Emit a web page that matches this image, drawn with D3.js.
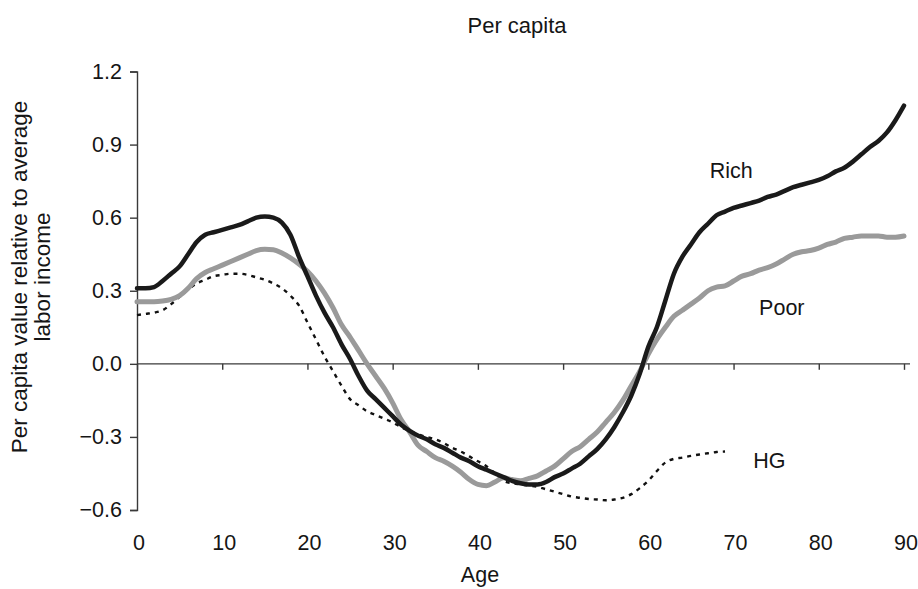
<!DOCTYPE html>
<html>
<head>
<meta charset="utf-8">
<script src="https://cdn.jsdelivr.net/npm/d3@7"></script>
<style>
  html, body { margin: 0; padding: 0; background: #fff; }
  svg text { font-family: "Liberation Sans", Arial, Helvetica, sans-serif; fill: #151515; }
</style>
</head>
<body>
<svg id="chart" width="918" height="589"></svg>
<script>
// Per capita values relative to average labor income, by age
const richAges = d3.range(0, 91);
const richValues = [
  0.31, 0.31, 0.315, 0.34, 0.37, 0.40, 0.45, 0.50, 0.53, 0.54,
  0.55, 0.56, 0.57, 0.585, 0.60, 0.605, 0.60, 0.58, 0.53, 0.44,
  0.36, 0.28, 0.21, 0.15, 0.08, 0.02, -0.05, -0.11, -0.145, -0.18,
  -0.215, -0.25, -0.275, -0.295, -0.31, -0.33, -0.345, -0.365, -0.385, -0.40,
  -0.42, -0.435, -0.45, -0.465, -0.48, -0.49, -0.495, -0.495, -0.485, -0.465,
  -0.45, -0.43, -0.41, -0.38, -0.35, -0.31, -0.26, -0.20, -0.13, -0.04,
  0.07, 0.15, 0.26, 0.37, 0.44, 0.49, 0.54, 0.575, 0.61, 0.625,
  0.64, 0.65, 0.66, 0.67, 0.685, 0.695, 0.71, 0.725, 0.735, 0.745,
  0.755, 0.77, 0.79, 0.805, 0.83, 0.86, 0.89, 0.915, 0.95, 1.0,
  1.06
];

const poorAges = d3.range(0, 91);
const poorValues = [
  0.255, 0.255, 0.255, 0.258, 0.265, 0.28, 0.31, 0.35, 0.375, 0.39,
  0.405, 0.42, 0.435, 0.45, 0.465, 0.47, 0.468, 0.455, 0.435, 0.41,
  0.38, 0.34, 0.29, 0.23, 0.16, 0.11, 0.055, 0.0, -0.05, -0.10,
  -0.16, -0.23, -0.28, -0.335, -0.36, -0.385, -0.40, -0.42, -0.445, -0.475,
  -0.495, -0.50, -0.485, -0.468, -0.475, -0.48, -0.47, -0.46, -0.44, -0.42,
  -0.39, -0.36, -0.34, -0.31, -0.28, -0.24, -0.20, -0.15, -0.09, -0.03,
  0.04, 0.10, 0.15, 0.195, 0.22, 0.245, 0.27, 0.30, 0.315, 0.32,
  0.34, 0.36, 0.37, 0.385, 0.395, 0.41, 0.43, 0.45, 0.46, 0.465,
  0.475, 0.49, 0.50, 0.515, 0.52, 0.525, 0.525, 0.525, 0.52, 0.52,
  0.525
];

const hgAges = d3.range(0, 70);
const hgValues = [
  0.20, 0.205, 0.21, 0.22, 0.245, 0.275, 0.305, 0.33, 0.345, 0.36,
  0.365, 0.37, 0.37, 0.365, 0.355, 0.345, 0.33, 0.31, 0.28, 0.24,
  0.17, 0.10, 0.03, -0.03, -0.09, -0.145, -0.17, -0.195, -0.21, -0.225,
  -0.24, -0.26, -0.275, -0.29, -0.30, -0.31, -0.325, -0.345, -0.36, -0.38,
  -0.40, -0.42, -0.45, -0.48, -0.49, -0.495, -0.50, -0.505, -0.515, -0.525,
  -0.535, -0.545, -0.55, -0.555, -0.557, -0.56, -0.557, -0.55, -0.535, -0.51,
  -0.48, -0.44, -0.405, -0.39, -0.385, -0.378, -0.372, -0.367, -0.362, -0.36
];

const xTicks = [0, 10, 20, 30, 40, 50, 60, 70, 80, 90];
const yTicks = [-0.6, -0.3, 0.0, 0.3, 0.6, 0.9, 1.2];

const seriesLabels = [
  { text: "Rich", age: 67.2, value: 0.764 },
  { text: "Poor", age: 73.0, value: 0.202 },
  { text: "HG",   age: 72.3, value: -0.429 }
];

const svg = d3.select("#chart");
const axisColor = "#3a3a3a";
const fontSize = 21.5;

const x = d3.scaleLinear().domain([0, 90]).range([137, 904]);
const y = d3.scaleLinear().domain([-0.6, 1.2]).range([510, 71.5]);

// Title
svg.append("text")
  .attr("x", 517).attr("y", 33)
  .attr("text-anchor", "middle")
  .attr("font-size", 22)
  .text("Per capita");

// Vertical axis with ticks on the left
const yAxis = d3.axisLeft(y)
  .tickValues(yTicks)
  .tickSize(7)
  .tickPadding(8)
  .tickFormat(d => d3.format(".1f")(d).replace("-", "\u2212"));
const gy = svg.append("g").attr("transform", `translate(${x(0)},0)`).call(yAxis);
gy.select(".domain").attr("stroke", axisColor).attr("stroke-width", 1.4);
gy.selectAll(".tick line").attr("stroke", axisColor).attr("stroke-width", 1.4);
gy.selectAll(".tick text")
  .attr("font-size", fontSize)
  .attr("fill", "#151515")
  .attr("font-family", "Liberation Sans, Arial, sans-serif");

// Horizontal axis drawn through zero with ticks pointing down
const xAxis = d3.axisBottom(x)
  .tickValues(xTicks)
  .tickSize(6)
  .tickFormat("");
const gx = svg.append("g").attr("transform", `translate(0,${y(0)})`).call(xAxis);
gx.select(".domain")
  .attr("d", `M${x(0)},0H${x(90) + 6}`)
  .attr("stroke", axisColor).attr("stroke-width", 1.4);
gx.selectAll(".tick line").attr("stroke", axisColor).attr("stroke-width", 1.4);

// Age labels set beneath the plot
svg.append("g").selectAll("text")
  .data(xTicks)
  .join("text")
  .attr("x", d => x(d) + 2)
  .attr("y", 550)
  .attr("text-anchor", "middle")
  .attr("font-size", fontSize)
  .text(d => d);

// Axis titles
svg.append("text")
  .attr("x", 480).attr("y", 582)
  .attr("text-anchor", "middle")
  .attr("font-size", fontSize)
  .text("Age");

const yTitle = svg.append("text")
  .attr("transform", "translate(27,277) rotate(-90)")
  .attr("text-anchor", "middle")
  .attr("font-size", 22.5);
yTitle.append("tspan").attr("x", 0).attr("dy", 0).text("Per capita value relative to average");
yTitle.append("tspan").attr("x", 0).attr("dy", 23).text("labor income");

// Series lines
const line = d3.line().x(d => x(d[0])).y(d => y(d[1])).curve(d3.curveMonotoneX);
const zip = (a, b) => a.map((v, i) => [v, b[i]]);

svg.append("path")
  .datum(zip(hgAges, hgValues))
  .attr("fill", "none")
  .attr("stroke", "#111")
  .attr("stroke-width", 2.4)
  .attr("stroke-dasharray", "4,5")
  .attr("d", line);

svg.append("path")
  .datum(zip(poorAges, poorValues))
  .attr("fill", "none")
  .attr("stroke", "#9a9a9a")
  .attr("stroke-width", 5)
  .attr("stroke-linejoin", "round")
  .attr("stroke-linecap", "round")
  .attr("d", line);

svg.append("path")
  .datum(zip(richAges, richValues))
  .attr("fill", "none")
  .attr("stroke", "#1a1a1a")
  .attr("stroke-width", 4.5)
  .attr("stroke-linejoin", "round")
  .attr("stroke-linecap", "round")
  .attr("d", line);

// Series names next to their curves
svg.append("g").selectAll("text")
  .data(seriesLabels)
  .join("text")
  .attr("x", d => x(d.age))
  .attr("y", d => y(d.value))
  .attr("font-size", fontSize)
  .text(d => d.text);
</script>
</body>
</html>
